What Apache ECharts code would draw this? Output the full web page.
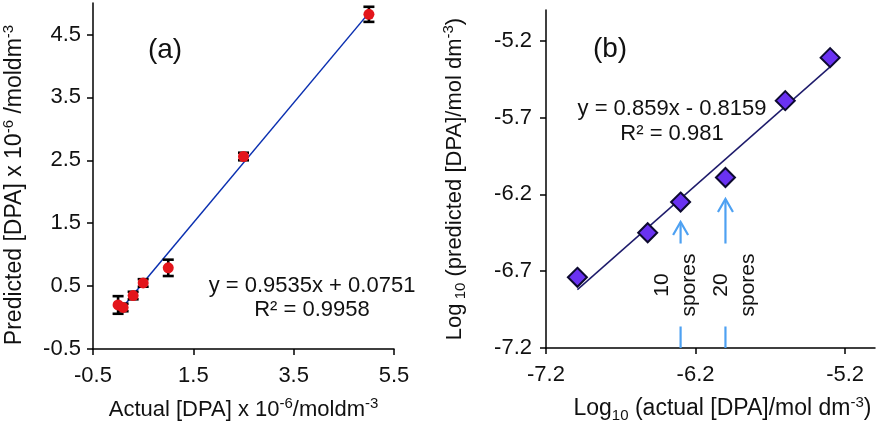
<!DOCTYPE html>
<html><head><meta charset="utf-8">
<script src="https://cdn.jsdelivr.net/npm/echarts@6/dist/echarts.min.js"></script>
<style>html,body{margin:0;padding:0;background:#fff}#c{width:879px;height:428px}</style>
</head><body><div id="c"></div>
<script>
// ---- Panel (a) data ----
const aActual    = [0.0, 0.1, 0.3, 0.5, 1.0, 2.5, 5.0];
const aPredicted = [0.20, 0.16, 0.35, 0.55, 0.79, 2.56, 4.82];
const aError     = [0.14, 0.06, 0.06, 0.06, 0.13, 0.06, 0.12];
const aTrendX    = [0.0, 5.0];
const aTrendY    = [0.075, 4.843];
const aXTicks    = [-0.5, 1.5, 3.5, 5.5];
const aYTicks    = [-0.5, 0.5, 1.5, 2.5, 3.5, 4.5];
const aEquation  = ['y = 0.9535x + 0.0751', 'R² = 0.9958'];

// ---- Panel (b) data ----
const bActual    = [-6.99, -6.52, -6.30, -6.00, -5.60, -5.30];
const bPredicted = [-6.74, -6.45, -6.25, -6.09, -5.59, -5.31];
const bTrendX    = [-6.99, -5.30];
const bTrendY    = [-6.82, -5.37];
const bXTicks    = [-7.2, -6.2, -5.2];
const bYTicks    = [-7.2, -6.7, -6.2, -5.7, -5.2];
const bEquation  = ['y = 0.859x - 0.8159', 'R² = 0.981'];

// arrows / annotations in panel (b)
const arrowLabels = ['10\nspores', '20\nspores'];
const arrowX      = [-6.30, -6.00];
const arrowTail   = [-6.52, -6.52];
const arrowHead   = [-6.38, -6.23];
const dashTop     = [-7.06, -7.06];
const labelX      = [-6.333, -5.935];
const labelY      = [-6.79, -6.79];

const FONT = 'Liberation Sans, Arial, sans-serif';
const chart = echarts.init(document.getElementById('c'));

function axisCommon(ticks, min, max, labelMargin) {
  return {
    type: 'value', min: min, max: max,
    axisLine: {show: true, onZero: false, lineStyle: {color: '#000', width: 1.5}},
    axisTick: {show: true, inside: false, length: 6, customValues: ticks, lineStyle: {color: '#000', width: 1.5}},
    axisLabel: {show: true, customValues: ticks, margin: labelMargin, color: '#111', fontSize: 22, fontFamily: FONT,
      formatter: v => Number(v).toFixed(1)},
    splitLine: {show: false}
  };
}
function nameStyle(size, extra) {
  return Object.assign({
    color: '#111', fontSize: size, fontFamily: FONT, lineHeight: size + 5,
    rich: {
      sup: {fontSize: 15, fontFamily: FONT, color: '#111', verticalAlign: 'top'},
      sub: {fontSize: 15, fontFamily: FONT, color: '#111', verticalAlign: 'bottom'}
    }
  }, extra || {});
}

const xa = axisCommon(aXTicks, -0.5, 5.5, 16);
Object.assign(xa, {gridIndex: 0, name: 'Actual [DPA] x 10{sup|-6}/moldm{sup|-3}', nameLocation: 'middle', nameGap: 47, nameTextStyle: nameStyle(22)});
const ya = axisCommon(aYTicks, -0.5, 5.0, 12);
Object.assign(ya, {gridIndex: 0, name: 'Predicted [DPA] x 10{sup|-6} /moldm{sup|-3}', nameLocation: 'middle', nameGap: 64, nameTextStyle: nameStyle(23, {padding: [0, 18, 0, 0]})});
const xb = axisCommon(bXTicks, -7.2, -5.0, 16);
Object.assign(xb, {gridIndex: 1, name: 'Log{sub|10} (actual [DPA]/mol dm{sup|-3})', nameLocation: 'middle', nameGap: 47, nameTextStyle: nameStyle(23, {padding: [0, 0, 0, 24]})});
const yb = axisCommon(bYTicks, -7.2, -5.0, 14);
Object.assign(yb, {gridIndex: 1, name: 'Log{sub| 10} (predicted [DPA]/mol dm{sup|-3})', nameLocation: 'middle', nameGap: 78, nameTextStyle: nameStyle(22)});

const errData = aActual.map((x, i) => [x, aPredicted[i], aError[i]]);
const arrowData = arrowX.map((x, i) => [x, arrowTail[i], arrowHead[i], dashTop[i]]);
const labelData = labelX.map((x, i) => [x, labelY[i], i]);

chart.setOption({
  backgroundColor: '#fff',
  animation: false,
  grid: [
    {left: 91, top: 3, width: 303, height: 346},
    {left: 546, top: 10, width: 329, height: 338}
  ],
  xAxis: [xa, xb],
  yAxis: [ya, yb],
  graphic: [
    {type: 'text', x: 165, y: 50, style: {text: '(a)', font: '28px ' + FONT, fill: '#111', align: 'center', verticalAlign: 'middle'}},
    {type: 'text', x: 610, y: 49, style: {text: '(b)', font: '28px ' + FONT, fill: '#111', align: 'center', verticalAlign: 'middle'}},
    {type: 'text', x: 312, y: 298, style: {text: aEquation.join('\n'), font: '22px ' + FONT, fill: '#111', align: 'center', verticalAlign: 'middle', lineHeight: 24}},
    {type: 'text', x: 672, y: 121, style: {text: bEquation.join('\n'), font: '22px ' + FONT, fill: '#111', align: 'center', verticalAlign: 'middle', lineHeight: 25}}
  ],
  series: [
    {type: 'line', xAxisIndex: 0, yAxisIndex: 0, data: aTrendX.map((x, i) => [x, aTrendY[i]]),
      symbol: 'none', lineStyle: {color: '#0a2fb0', width: 1.5}, z: 2},
    {type: 'custom', xAxisIndex: 0, yAxisIndex: 0, data: errData, z: 3, clip: false,
      renderItem: function (params, api) {
        const x = api.value(0), y = api.value(1), e = api.value(2);
        const top = api.coord([x, y + e]), bot = api.coord([x, y - e]);
        const st = {stroke: '#000', lineWidth: 2.6};
        return {type: 'group', children: [
          {type: 'line', shape: {x1: top[0], y1: top[1], x2: bot[0], y2: bot[1]}, style: st},
          {type: 'line', shape: {x1: top[0] - 5.5, y1: top[1], x2: top[0] + 5.5, y2: top[1]}, style: st},
          {type: 'line', shape: {x1: bot[0] - 5.5, y1: bot[1], x2: bot[0] + 5.5, y2: bot[1]}, style: st}
        ]};
      }},
    {type: 'scatter', xAxisIndex: 0, yAxisIndex: 0, data: aActual.map((x, i) => [x, aPredicted[i]]),
      symbol: 'circle', symbolSize: 11, itemStyle: {color: '#e3151b', opacity: 1}, z: 4},
    {type: 'line', xAxisIndex: 1, yAxisIndex: 1, data: bTrendX.map((x, i) => [x, bTrendY[i]]),
      symbol: 'none', lineStyle: {color: '#1e1b6b', width: 1.5}, z: 2},
    {type: 'scatter', xAxisIndex: 1, yAxisIndex: 1, data: bActual.map((x, i) => [x, bPredicted[i]]),
      symbol: 'diamond', symbolSize: 19, itemStyle: {color: '#6a32f2', borderColor: '#0d0a30', borderWidth: 2, opacity: 1}, z: 4},
    {type: 'custom', xAxisIndex: 1, yAxisIndex: 1, data: arrowData, z: 3, clip: false,
      renderItem: function (params, api) {
        const x = api.value(0);
        const tail = api.coord([x, api.value(1)]), head = api.coord([x, api.value(2)]);
        const d1 = api.coord([x, api.value(3)]), d0 = api.coord([x, -7.2]);
        const st = {stroke: '#4ea1f2', lineWidth: 2.2, fill: 'none'};
        return {type: 'group', children: [
          {type: 'line', shape: {x1: tail[0], y1: tail[1], x2: head[0], y2: head[1]}, style: st},
          {type: 'polyline', shape: {points: [[head[0] - 7.5, head[1] + 13], [head[0], head[1]], [head[0] + 7.5, head[1] + 13]]}, style: st},
          {type: 'line', shape: {x1: d0[0], y1: d0[1], x2: d1[0], y2: d1[1]}, style: st}
        ]};
      }},
    {type: 'custom', xAxisIndex: 1, yAxisIndex: 1, data: labelData, z: 3, clip: false,
      renderItem: function (params, api) {
        const p = api.coord([api.value(0), api.value(1)]);
        return {type: 'text', x: p[0], y: p[1], rotation: Math.PI / 2,
          style: {text: arrowLabels[api.value(2)], font: '21px ' + FONT, fill: '#111', align: 'center', verticalAlign: 'middle', lineHeight: 27}};
      }}
  ]
});
</script></body></html>
